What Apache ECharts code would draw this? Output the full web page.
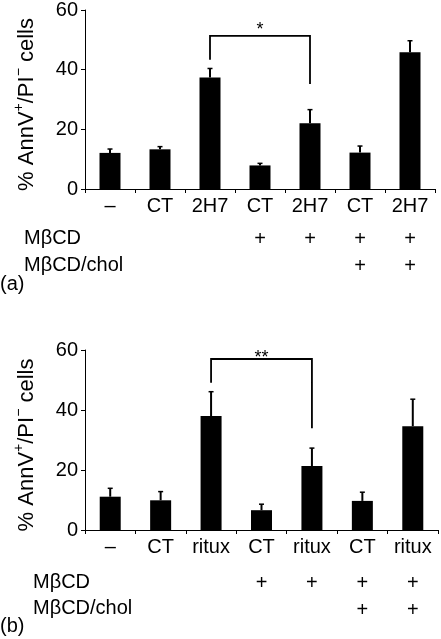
<!DOCTYPE html>
<html>
<head>
<meta charset="utf-8">
<script src="https://cdn.jsdelivr.net/npm/echarts@6/dist/echarts.min.js"></script>
<style>
html,body{margin:0;padding:0;background:#fff;}
#c{width:441px;height:639px;}
</style>
</head>
<body>
<div id="c"></div>
<script>
// ---- data ----
var catsA = ['–', 'CT', '2H7', 'CT', '2H7', 'CT', '2H7'];
var catsB = ['–', 'CT', 'ritux', 'CT', 'ritux', 'CT', 'ritux'];
var mbcdRow = ['', '', '', '+', '+', '+', '+'];
var cholRow = ['', '', '', '', '', '+', '+'];
var valuesA = [12.1, 13.3, 37.4, 7.9, 22.0, 12.2, 45.8];
var errTopA = [13.4, 14.2, 40.4, 8.6, 26.6, 14.4, 49.7];
var valuesB = [11.1, 9.9, 38.0, 6.6, 21.3, 9.7, 34.6];
var errTopB = [13.9, 12.8, 46.1, 8.6, 27.3, 12.6, 43.6];
// bracket: [startCat, endCat, topValue, leftLegEnd, rightLegEnd]
var bracketA = [2, 4, 51.3, 43.3, 35.2];
var bracketB = [2, 4, 57.0, 49.1, 33.9];
var sigA = '*';
var sigB = '**';
var yTicks = {min: 0, max: 60, interval: 20};

var FONT = '"Liberation Sans", Arial, Helvetica, sans-serif';
var chart = echarts.init(document.getElementById('c'));

function errData(vals, tops) {
  return vals.map(function (v, i) { return [i, v, tops[i]]; });
}
function errRender(params, api) {
  var x = api.value(0);
  var lo = api.coord([x, api.value(1)]);
  var hi = api.coord([x, api.value(2)]);
  return {
    type: 'group',
    children: [
      {type: 'line', shape: {x1: lo[0], y1: lo[1], x2: hi[0], y2: hi[1]}, style: {stroke: '#000', lineWidth: 2}},
      {type: 'line', shape: {x1: hi[0] - 2.5, y1: hi[1], x2: hi[0] + 2.5, y2: hi[1]}, style: {stroke: '#000', lineWidth: 1.5}}
    ]
  };
}
function makeBracketRender(label, gap) {
  return function (params, api) {
    var a = api.coord([api.value(0), api.value(2)]);
    var b = api.coord([api.value(1), api.value(2)]);
    var la = api.coord([api.value(0), api.value(3)]);
    var rb = api.coord([api.value(1), api.value(4)]);
    return {
      type: 'group',
      children: [
        {type: 'polyline', shape: {points: [[la[0], la[1]], [a[0], a[1]], [b[0], b[1]], [rb[0], rb[1]]]}, style: {stroke: '#000', lineWidth: 1.8, fill: null}},
        {type: 'text', style: {text: label, x: (a[0] + b[0]) / 2, y: a[1] + gap, align: 'center', verticalAlign: 'bottom', fontSize: 18, fontFamily: FONT, fill: '#000'}}
      ]
    };
  };
}

var yName = '{n|% AnnV}{sup|+}{n|/PI}{sup|−}{n| cells}';
function yAxis(gi) {
  return {
    gridIndex: gi, type: 'value', min: yTicks.min, max: yTicks.max, interval: yTicks.interval,
    name: yName, nameLocation: 'middle', nameGap: 47, nameRotate: 90,
    nameTextStyle: {fontSize: 22, fontFamily: FONT, color: '#000', padding: [0, 10, 0, 0],
      rich: {
        n: {fontSize: 22, fontFamily: FONT, color: '#000', lineHeight: 26, verticalAlign: 'bottom'},
        sup: {fontSize: 14, fontFamily: FONT, color: '#000', lineHeight: 26, verticalAlign: 'top'}
      }},
    axisLine: {show: true, lineStyle: {color: '#000', width: 1}},
    axisTick: {show: true, length: 4, lineStyle: {color: '#000'}},
    axisLabel: {fontSize: 20, fontFamily: FONT, color: '#000', margin: 7},
    splitLine: {show: false}
  };
}
function catAxis(gi, data) {
  return {
    gridIndex: gi, type: 'category', data: data, position: 'bottom',
    axisLine: {show: true, lineStyle: {color: '#000', width: 1}},
    axisTick: {show: true, length: 4, alignWithLabel: false, lineStyle: {color: '#000'}},
    axisLabel: {fontSize: 20, fontFamily: FONT, color: '#000', margin: 7, interval: 0}
  };
}
function rowAxis(gi, data, off) {
  return {
    gridIndex: gi, type: 'category', data: data, position: 'bottom', offset: off,
    axisLine: {show: false}, axisTick: {show: false},
    axisLabel: {fontSize: 20, fontFamily: FONT, color: '#000', margin: 7, interval: 0}
  };
}

var option = {
  animation: false,
  backgroundColor: '#fff',
  grid: [
    {left: 85, right: 6, top: 10, height: 179},
    {left: 85, right: 3, top: 350, height: 180}
  ],
  xAxis: [
    catAxis(0, catsA), rowAxis(0, mbcdRow, 33), rowAxis(0, cholRow, 60),
    catAxis(1, catsB), rowAxis(1, mbcdRow, 36), rowAxis(1, cholRow, 63)
  ],
  yAxis: [yAxis(0), yAxis(1)],
  series: [
    {type: 'bar', xAxisIndex: 0, yAxisIndex: 0, data: valuesA, barWidth: 21, itemStyle: {color: '#000'}},
    {type: 'custom', xAxisIndex: 0, yAxisIndex: 0, data: errData(valuesA, errTopA), renderItem: errRender, z: 3},
    {type: 'custom', xAxisIndex: 0, yAxisIndex: 0, data: [bracketA], renderItem: makeBracketRender(sigA, 3)},
    {type: 'bar', xAxisIndex: 3, yAxisIndex: 1, data: valuesB, barWidth: 21, itemStyle: {color: '#000'}},
    {type: 'custom', xAxisIndex: 3, yAxisIndex: 1, data: errData(valuesB, errTopB), renderItem: errRender, z: 3},
    {type: 'custom', xAxisIndex: 3, yAxisIndex: 1, data: [bracketB], renderItem: makeBracketRender(sigB, 8)}
  ],
  graphic: [
    {type: 'text', left: 24, top: 228, style: {text: 'MβCD', fontSize: 20, fontFamily: FONT, fill: '#000'}},
    {type: 'text', left: 24, top: 255, style: {text: 'MβCD/chol', fontSize: 20, fontFamily: FONT, fill: '#000'}},
    {type: 'text', left: 0, top: 274, style: {text: '(a)', fontSize: 20, fontFamily: FONT, fill: '#000'}},
    {type: 'text', left: 33, top: 572, style: {text: 'MβCD', fontSize: 20, fontFamily: FONT, fill: '#000'}},
    {type: 'text', left: 33, top: 598, style: {text: 'MβCD/chol', fontSize: 20, fontFamily: FONT, fill: '#000'}},
    {type: 'text', left: 0, top: 616, style: {text: '(b)', fontSize: 20, fontFamily: FONT, fill: '#000'}}
  ]
};
chart.setOption(option);
</script>
</body>
</html>
